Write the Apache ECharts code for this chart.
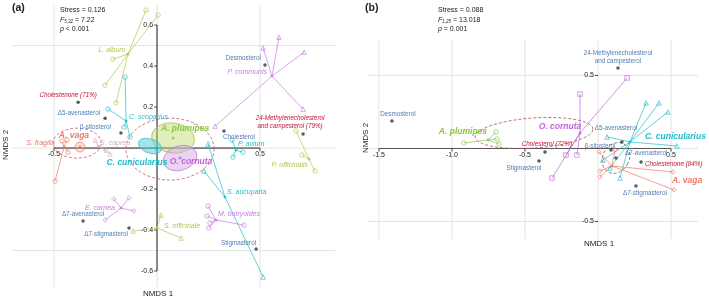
<!DOCTYPE html>
<html><head><meta charset="utf-8">
<script src="https://cdn.jsdelivr.net/npm/echarts@6/dist/echarts.min.js"></script>
<style>html,body{margin:0;padding:0;background:#fff}#c{width:709px;height:300px}</style>
</head><body><div id="c"></div>
<script>
// ================= DATA =================
// ---- Panel (a) axes ----
const aXRange = [-0.704, 0.864];
const aYRange = [-0.678, 0.698];
const aGridX = [-0.5, 0, 0.5];
const aGridY = [-0.5, 0, 0.5];
const aXTicks = [-0.5, 0.5];
const aYTicks = [-0.6, -0.4, -0.2, 0.2, 0.4, 0.6];
const aXAxisSpan = [-0.5, 0.5];
const aYAxisSpan = [-0.6, 0.6];

// ---- Panel (a) sterol vectors ----
const aSterolNames = ['Cholestenone (71%)', 'Δ5-avenasterol', 'β-sitosterol', 'Desmosterol', 'Cholesterol',
  '24-Methylenecholesterol\nand campesterol (79%)', 'Δ7-avenasterol', 'Δ7-stigmasterol', 'Stigmasterol'];
const aSterolX = [-0.383, -0.252, -0.175, 0.524, 0.325, 0.709, -0.359, -0.136, 0.481];
const aSterolY = [0.224, 0.146, 0.073, 0.405, 0.083, 0.068, -0.356, -0.390, -0.493];
const aSterolMajor = [1, 0, 0, 0, 0, 1, 0, 0, 0];

// ---- Panel (a) plant species (spiders) ----
const aPlantNames = ['L. album', 'C. scoparius', 'P. communis', 'P. avium', 'P. officinalis', 'S. aucuparia',
  'M. botryoides', 'S. officinale', 'E. carnea', 'S. fragilis', 'S. caprea'];
const aPlantCentroids = [[-0.141, 0.459], [-0.150, 0.132], [0.558, 0.351], [0.383, -0.010], [0.738, -0.054],
  [0.330, -0.239], [0.286, -0.351], [0.0, -0.390], [-0.175, -0.293], [-0.451, 0.005], [-0.286, 0.010]];
const aPlantPoints = [
  [[-0.053, 0.673], [0.005, 0.649], [-0.214, 0.434], [-0.252, 0.307], [-0.199, 0.220]],
  [[-0.155, 0.346], [-0.238, 0.190], [-0.160, 0.102], [-0.131, 0.054]],
  [[0.515, 0.488], [0.592, 0.541], [0.714, 0.468], [0.709, 0.190], [0.282, 0.107]],
  [[0.364, 0.039], [0.369, -0.044], [0.417, -0.020]],
  [[0.675, 0.083], [0.704, -0.034], [0.767, -0.112]],
  [[0.248, 0.020], [0.228, -0.112], [0.515, -0.629]],
  [[0.248, -0.283], [0.243, -0.332], [0.257, -0.366], [0.252, -0.390], [0.422, -0.376]],
  [[0.019, -0.327], [0.117, -0.439], [-0.117, -0.405]],
  [[-0.209, -0.249], [-0.136, -0.244], [-0.112, -0.307], [-0.252, -0.351]],
  [[-0.495, -0.161], [-0.461, 0.034], [-0.437, 0.039], [-0.432, -0.020]],
  [[-0.301, 0.039], [-0.248, -0.010], [-0.228, -0.029]]
];

// ---- Panel (a) bee species (centroids + ellipses) ----
const aBeeNames = ['A. plumipes', 'C. cunicularius', 'O. cornuta', 'A. vaga'];
const aBeeCentroids = [[0.078, 0.049], [-0.005, 0.0], [0.112, -0.049], [-0.374, 0.005]];
// ellipse: [cx, cy, rx, ry, angleDeg]
const aBeeEllipses = [[0.078, 0.049, 0.104, 0.073, -8], [-0.034, 0.010, 0.058, 0.034, -20],
  [0.112, -0.049, 0.083, 0.059, 18], [-0.374, 0.005, 0.024, 0.024, 0]];
const aGroupEllipses = [[-0.388, 0.024, 0.117, 0.073, 0], [0.063, -0.005, 0.214, 0.151, 0]];

// ---- Panel (b) axes ----
const bXRange = [-1.575, 0.685];
const bYRange = [-0.620, 0.743];
const bGridX = [-1.5, -1.0, -0.5, 0, 0.5];
const bGridY = [-0.5, 0, 0.5];
const bXTicks = [-1.5, -1.0, -0.5, 0.5];
const bYTicks = [-0.5, 0.5];
const bXAxisSpan = [-1.5, 0.5];

// ---- Panel (b) sterol vectors ----
const bSterolNames = ['Desmosterol', '24-Methylenecholesterol\nand campesterol', 'Cholesterol (72%)', 'Stigmasterol',
  'Δ5-avenasterol', 'β-sitosterol', 'Δ7-avenasterol', 'Cholestenone (84%)', 'Δ7-stigmasterol'];
const bSterolX = [-1.411, 0.137, -0.363, -0.404, 0.164, 0.089, 0.123, 0.295, 0.260];
const bSterolY = [0.188, 0.551, -0.024, -0.086, 0.045, -0.010, -0.065, -0.092, -0.257];
const bSterolMajor = [0, 0, 1, 0, 0, 0, 0, 1, 0];

// ---- Panel (b) bee species (spiders) ----
const bBeeNames = ['A. plumipes', 'O. cornuta', 'C. cunicularius', 'A. vaga'];
const bBeeCentroids = [[-0.753, 0.058], [-0.123, 0.106], [0.219, 0.045], [0.096, -0.120]];
const bBeePoints = [
  [[-0.918, 0.038], [-0.699, 0.113], [-0.692, 0.065], [-0.678, 0.031]],
  [[-0.123, 0.373], [0.199, 0.483], [-0.219, -0.045], [-0.144, -0.045], [-0.315, -0.202]],
  [[0.329, 0.312], [0.418, 0.312], [0.479, 0.250], [0.062, 0.079], [0.541, 0.017], [0.034, -0.079], [0.151, -0.202], [0.082, -0.134]],
  [[0.514, -0.161], [0.521, -0.284], [0.014, -0.154], [0.014, -0.195], [0.007, -0.024], [0.116, -0.010]]
];
const bGroupEllipses = [[-0.438, 0.106, 0.404, 0.103, 4], [0.123, -0.065, 0.09, 0.11, -30]];

// ================= STYLES =================
const FONT = '"Liberation Sans", Arial, Helvetica, sans-serif';
const C = {olive: '#b2c74a', green: '#8cc540', cyan: '#1dbdc8', violet: '#c77ddb', salmon: '#f07565',
  caprea: '#cdb7b7', blue: '#4f7db3', red: '#c8102e', dot: '#2b3142', grid: '#dcdcdc', axis: '#222', dash: '#c4506a'};
const aPlantStyle = [
  {c: C.olive, s: 'circle', al: 'right', dx: -3, dy: -4},
  {c: C.cyan, s: 'circle', al: 'left', dx: 3, dy: -4},
  {c: C.violet, s: 'triangle', al: 'right', dx: -5, dy: -4},
  {c: C.cyan, s: 'circle', al: 'left', dx: 2, dy: -6},
  {c: C.olive, s: 'circle', al: 'right', dx: -1, dy: 6},
  {c: C.cyan, s: 'triangle', al: 'left', dx: 2, dy: -5},
  {c: C.violet, s: 'circle', al: 'left', dx: 2, dy: -6},
  {c: C.olive, s: 'triangle', al: 'left', dx: 7, dy: -2},
  {c: C.violet, s: 'diamond', al: 'right', dx: -6, dy: 0},
  {c: C.salmon, s: 'circle', al: 'right', dx: -9, dy: -4},
  {c: C.caprea, s: 'triangle', al: 'left', dx: 2, dy: -3}
];
const aSterolStyle = [
  {al: 'center', dx: -10, dy: -7}, {al: 'right', dx: -5, dy: -5}, {al: 'right', dx: -10, dy: -6},
  {al: 'right', dx: -4, dy: -7}, {al: 'left', dx: -1, dy: 6}, {al: 'center', dx: -13, dy: -12},
  {al: 'center', dx: 0, dy: -7}, {al: 'right', dx: -1, dy: 6}, {al: 'right', dx: 0, dy: -6}
];
const bSterolStyle = [
  {al: 'center', dx: 6, dy: -7}, {al: 'center', dx: 0, dy: -11}, {al: 'center', dx: 2, dy: -8},
  {al: 'center', dx: -15, dy: 7}, {al: 'center', dx: -6, dy: -14}, {al: 'center', dx: -11, dy: -4},
  {al: 'left', dx: 9, dy: -5}, {al: 'left', dx: 4, dy: 2}, {al: 'center', dx: 9, dy: 7}
];
const aBeeStyle = [
  {c: C.green, fill: 'rgba(186,218,110,0.45)', st: '#9cc441', al: 'center', dx: 12, dy: -9},
  {c: C.cyan, fill: 'rgba(70,205,215,0.5)', st: '#22bcc6', al: 'center', dx: -19, dy: 15},
  {c: '#c064d8', fill: 'rgba(214,168,234,0.5)', st: '#b977d6', al: 'center', dx: 11, dy: 4},
  {c: C.salmon, fill: 'rgba(245,150,135,0.3)', st: C.salmon, al: 'center', dx: -6, dy: -11}
];
const bBeeStyle = [
  {c: C.green, s: 'circle', al: 'right', dx: -1, dy: -8},
  {c: '#c064d8', s: 'rect', al: 'center', dx: -20, dy: -6},
  {c: C.cyan, s: 'triangle', al: 'left', dx: 15, dy: -5},
  {c: C.salmon, s: 'diamond', al: 'left', dx: 60, dy: 15}
];

// ================= HELPERS =================
const series = [];
function seg(gi, segs, color, width, dash, z) {
  series.push({type: 'custom', xAxisIndex: gi, yAxisIndex: gi, z: z, silent: true, data: segs,
    renderItem: (p, api) => {
      const a = api.coord([api.value(0), api.value(1)]);
      const b = api.coord([api.value(2), api.value(3)]);
      return {type: 'line', shape: {x1: a[0], y1: a[1], x2: b[0], y2: b[1]},
        style: {stroke: color, lineWidth: width, lineDash: dash || null}};
    }});
}
function ellipses(gi, list, styles, z) {
  series.push({type: 'custom', xAxisIndex: gi, yAxisIndex: gi, z: z, silent: true, data: list,
    renderItem: (p, api) => {
      const st = styles[p.dataIndex];
      const cx = api.value(0), cy = api.value(1), rx = api.value(2), ry = api.value(3), ang = api.value(4) * Math.PI / 180;
      const pts = [];
      for (let k = 0; k < 90; k++) {
        const t = k / 90 * 2 * Math.PI, dx = rx * Math.cos(t), dy = ry * Math.sin(t);
        pts.push(api.coord([cx + dx * Math.cos(ang) - dy * Math.sin(ang), cy + dx * Math.sin(ang) + dy * Math.cos(ang)]));
      }
      return {type: 'polygon', shape: {points: pts},
        style: {fill: st.fill || 'none', stroke: st.stroke, lineWidth: st.lw || 0.8, lineDash: st.dash || null}};
    }});
}
function texts(gi, pts, items, z) {
  series.push({type: 'custom', xAxisIndex: gi, yAxisIndex: gi, z: z, silent: true, data: pts,
    renderItem: (p, api) => {
      const t = items[p.dataIndex];
      const c = api.coord([api.value(0), api.value(1)]);
      return {type: 'text', x: c[0] + t.dx, y: c[1] + t.dy,
        style: {text: t.text, fill: t.color, fontSize: t.size, fontFamily: FONT, fontStyle: t.it ? 'italic' : 'normal',
          fontWeight: t.bold ? 'bold' : 'normal', align: t.al, verticalAlign: 'middle', lineHeight: t.size * 1.3}};
    }});
}
function scatter(gi, pts, color, symbol, size, open, z) {
  series.push({type: 'scatter', xAxisIndex: gi, yAxisIndex: gi, z: z, silent: true, data: pts,
    symbol: symbol, symbolSize: size,
    itemStyle: open ? {color: 'rgba(255,255,255,0)', borderColor: color, borderWidth: 0.8} : {color: color}});
}
function ticks(gi, vals, dir, z) {
  series.push({type: 'custom', xAxisIndex: gi, yAxisIndex: gi, z: z, silent: true, data: vals.map(v => [v]),
    renderItem: (p, api) => {
      const v = api.value(0);
      const c = dir === 'x' ? api.coord([v, 0]) : api.coord([0, v]);
      const lab = v.toFixed(1);
      if (dir === 'x') {
        return {type: 'group', children: [
          {type: 'line', shape: {x1: c[0], y1: c[1], x2: c[0], y2: c[1] + 3}, style: {stroke: C.axis, lineWidth: 0.8}},
          {type: 'text', x: c[0], y: c[1] + 6.5, style: {text: lab, fill: '#222', fontSize: 7, fontFamily: FONT, align: 'center', verticalAlign: 'middle'}}]};
      }
      return {type: 'group', children: [
        {type: 'line', shape: {x1: c[0] - 3, y1: c[1], x2: c[0], y2: c[1]}, style: {stroke: C.axis, lineWidth: 0.8}},
        {type: 'text', x: c[0] - 4, y: c[1], style: {text: lab, fill: '#222', fontSize: 7, fontFamily: FONT, align: 'right', verticalAlign: 'middle'}}]};
    }});
}

// ================= PANEL (a) =================
seg(0, aGridX.map(v => [v, aYRange[0], v, aYRange[1]]), C.grid, 0.8, null, 1);
seg(0, aGridY.map(v => [aXRange[0], v, aXRange[1], v]), C.grid, 0.8, null, 1);
seg(0, [[aXAxisSpan[0], 0, aXAxisSpan[1], 0], [0, aYAxisSpan[0], 0, aYAxisSpan[1]]], C.axis, 1, null, 2);
ticks(0, aXTicks, 'x', 2);
ticks(0, aYTicks, 'y', 2);
ellipses(0, aBeeEllipses.slice(0, 3), aBeeStyle.slice(0, 3).map(s => ({fill: s.fill, stroke: s.st})), 3);
ellipses(0, aBeeEllipses.slice(3), [{fill: aBeeStyle[3].fill, stroke: aBeeStyle[3].st}], 3);
ellipses(0, aGroupEllipses, [{stroke: C.dash, dash: [3, 2]}, {stroke: C.dash, dash: [3, 2]}], 4);
aPlantNames.forEach((n, i) => {
  const c = aPlantCentroids[i], st = aPlantStyle[i];
  seg(0, aPlantPoints[i].map(p => [c[0], c[1], p[0], p[1]]), st.c, 0.7, null, 5);
  scatter(0, aPlantPoints[i], st.c, st.s, 4.5, true, 6);
  scatter(0, [c], st.c, 'circle', 3, false, 6);
});
aBeeNames.forEach((n, i) => scatter(0, [aBeeCentroids[i]], aBeeStyle[i].c, 'circle', 3, false, 6));
scatter(0, aSterolX.map((x, i) => [x, aSterolY[i]]), C.dot, 'circle', 3.5, false, 7);
texts(0, aSterolX.map((x, i) => [x, aSterolY[i]]), aSterolNames.map((n, i) => Object.assign({
  text: n, color: aSterolMajor[i] ? C.red : C.blue, size: 6.3, it: !!aSterolMajor[i]}, aSterolStyle[i])), 8);
texts(0, aPlantCentroids, aPlantNames.map((n, i) => ({text: n, color: aPlantStyle[i].c, size: 7, it: true,
  al: aPlantStyle[i].al, dx: aPlantStyle[i].dx, dy: aPlantStyle[i].dy})), 8);
texts(0, aBeeCentroids, aBeeNames.map((n, i) => ({text: n, color: aBeeStyle[i].c, size: 8.5, it: true, bold: true,
  al: aBeeStyle[i].al, dx: aBeeStyle[i].dx, dy: aBeeStyle[i].dy})), 9);

// ================= PANEL (b) =================
seg(1, bGridX.map(v => [v, bYRange[0], v, bYRange[1]]), C.grid, 0.8, null, 1);
seg(1, bGridY.map(v => [bXRange[0], v, bXRange[1], v]), C.grid, 0.8, null, 1);
seg(1, [[bXAxisSpan[0], 0, bXAxisSpan[1], 0]], '#555', 1, null, 2);
ticks(1, bXTicks, 'x', 2);
ticks(1, bYTicks, 'y', 2);
ellipses(1, bGroupEllipses, [{stroke: '#b0485a', dash: [3, 2]}, {stroke: '#8a3a40', dash: [3, 2]}], 4);
bBeeNames.forEach((n, i) => {
  const c = bBeeCentroids[i], st = bBeeStyle[i];
  seg(1, bBeePoints[i].map(p => [c[0], c[1], p[0], p[1]]), st.c, 0.7, null, 5);
  scatter(1, bBeePoints[i], st.c, st.s, 4.5, true, 6);
  scatter(1, [c], st.c, 'circle', 3, false, 6);
});
scatter(1, bSterolX.map((x, i) => [x, bSterolY[i]]), C.dot, 'circle', 3.5, false, 7);
texts(1, bSterolX.map((x, i) => [x, bSterolY[i]]), bSterolNames.map((n, i) => Object.assign({
  text: n, color: bSterolMajor[i] ? C.red : C.blue, size: 6.3, it: !!bSterolMajor[i]}, bSterolStyle[i])), 8);
texts(1, bBeeCentroids, bBeeNames.map((n, i) => ({text: n, color: bBeeStyle[i].c, size: 8.5, it: true, bold: true,
  al: bBeeStyle[i].al, dx: bBeeStyle[i].dx, dy: bBeeStyle[i].dy})), 9);

// ================= CHART =================
const hidden = {show: false};
const axisBase = {type: 'value', axisLine: hidden, axisTick: hidden, axisLabel: hidden, splitLine: hidden};
const statRich = {i: {fontStyle: 'italic', fontSize: 7, fontFamily: FONT, fill: '#222'},
  sub: {fontStyle: 'italic', fontSize: 4.5, fontFamily: FONT, fill: '#222', verticalAlign: 'bottom', padding: [3, 0, 0, 0]},
  n: {fontSize: 7, fontFamily: FONT, fill: '#222'}};
function txt(x, y, text, extra) {
  return Object.assign({type: 'text', x: x, y: y, silent: true,
    style: Object.assign({text: text, fill: '#222', fontSize: 7, fontFamily: FONT, verticalAlign: 'middle'}, extra || {})});
}
const option = {
  animation: false,
  backgroundColor: '#fff',
  grid: [
    {left: 12, top: 5, width: 323, height: 282},
    {left: 368, top: 40, width: 330, height: 199}
  ],
  xAxis: [Object.assign({gridIndex: 0, min: aXRange[0], max: aXRange[1]}, axisBase),
    Object.assign({gridIndex: 1, min: bXRange[0], max: bXRange[1]}, axisBase)],
  yAxis: [Object.assign({gridIndex: 0, min: aYRange[0], max: aYRange[1]}, axisBase),
    Object.assign({gridIndex: 1, min: bYRange[0], max: bYRange[1]}, axisBase)],
  graphic: [
    txt(12, 8, '(a)', {fontSize: 10.5, fontWeight: 'bold'}),
    txt(60, 10, 'Stress = 0.126'),
    txt(60, 20, '{i|F}{sub|5,32}{n| = 7.22}', {rich: statRich}),
    txt(60, 29, '{i|p}{n| < 0.001}', {rich: statRich}),
    txt(365, 8, '(b)', {fontSize: 10.5, fontWeight: 'bold'}),
    txt(438, 10, 'Stress = 0.088'),
    txt(438, 20, '{i|F}{sub|1,25}{n| = 13.018}', {rich: statRich}),
    txt(438, 29, '{i|p}{n| = 0.001}', {rich: statRich}),
    txt(158, 294, 'NMDS 1', {fontSize: 8, align: 'center'}),
    txt(599, 244, 'NMDS 1', {fontSize: 8, align: 'center'}),
    Object.assign(txt(6, 145, 'NMDS 2', {fontSize: 8, align: 'center'}), {rotation: Math.PI / 2}),
    Object.assign(txt(366, 138, 'NMDS 2', {fontSize: 8, align: 'center'}), {rotation: Math.PI / 2})
  ],
  series: series
};
const chart = echarts.init(document.getElementById('c'));
chart.setOption(option);
</script></body></html>
